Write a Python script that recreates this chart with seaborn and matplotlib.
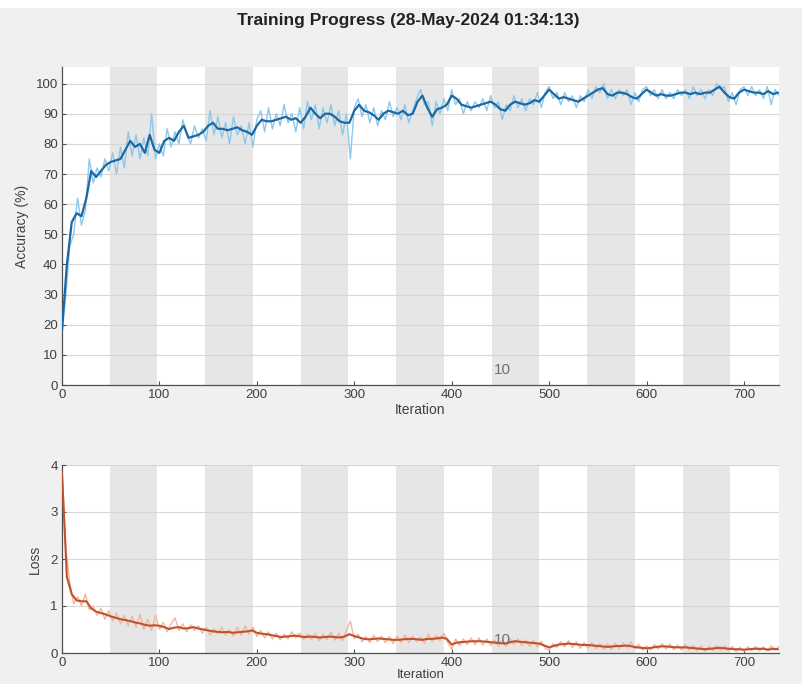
import numpy as np
import pandas as pd
import matplotlib
matplotlib.use("Agg")
import matplotlib.pyplot as plt
from matplotlib.patches import Rectangle
import seaborn as sns

# ---------------- data ----------------
title_text = "Training Progress (28-May-2024 01:34:13)"
x_ticks = [0, 100, 200, 300, 400, 500, 600, 700]
acc_ticks = [0, 10, 20, 30, 40, 50, 60, 70, 80, 90, 100]
loss_ticks = [0, 1, 2, 3, 4]
iters_per_epoch = 49
n_epochs = 15
epoch_label = "10"

# smoothed accuracy, one value every 5 iterations (0..735)
acc_smooth = [
    18, 40, 54, 57, 56, 62, 71, 69, 71, 73,
    74, 74.5, 75, 78, 81, 79, 80, 77, 83, 78,
    77, 81, 82, 81, 84, 86, 82, 82.5, 83, 84,
    86, 87, 85, 85, 84.5, 85, 85.5, 84.5, 84, 83,
    86, 88, 87.5, 87.5, 88, 88.5, 89, 88, 88.5, 87,
    89, 92, 90, 88.5, 90, 90, 89, 87.5, 87, 87,
    91, 93, 91, 90.5, 89.5, 88, 90, 91, 90.5, 90,
    91, 89.5, 90, 94, 96, 92, 89, 91.5, 92, 93,
    96, 95, 93, 92.5, 92, 92.5, 93, 93.5, 94, 93,
    91.5, 91, 93, 94, 93.5, 93, 93.5, 94.5, 94, 96,
    98, 96.5, 95, 95.5, 95, 94.5, 94, 95, 96, 97,
    98, 98.5, 96.5, 96, 97, 97, 96.5, 95.5, 95, 96.5,
    98, 97, 96, 96.5, 96, 96, 96.5, 97, 97, 96.5,
    97, 96.5, 97, 97, 98, 99, 97, 95.5, 95, 97,
    98, 97.5, 97, 97, 96.5, 97.5, 96.5, 97,
]

# raw accuracy, one value every 4 iterations (0..736)
acc_raw = [
    18, 30, 46, 50, 62, 53, 58, 75, 67, 72,
    69, 75, 71, 77, 70, 79, 72, 84, 76, 83,
    75, 82, 76, 90, 75, 80, 76, 85, 79, 84,
    80, 88, 83, 80, 86, 82, 85, 81, 91, 83,
    89, 82, 87, 80, 89, 83, 86, 80, 87, 79,
    88, 91, 84, 92, 85, 90, 86, 93, 87, 90,
    84, 92, 85, 94, 88, 93, 85, 92, 87, 93,
    86, 91, 83, 90, 75, 92, 95, 89, 93, 87,
    92, 86, 91, 88, 94, 89, 92, 88, 93, 87,
    91, 95, 98, 93, 94, 86, 94, 90, 95, 91,
    98, 93, 95, 90, 94, 91, 94, 92, 95, 91,
    96, 92, 94, 88, 93, 91, 96, 92, 95, 91,
    95, 93, 97, 92, 97, 99, 95, 97, 93, 97,
    94, 96, 92, 96, 94, 98, 95, 99, 97, 100,
    95, 98, 95, 98, 96, 98, 93, 97, 94, 98,
    99, 96, 98, 95, 98, 95, 97, 95, 98, 96,
    98, 95, 99, 96, 98, 95, 98, 96, 100, 98,
    99, 94, 97, 93, 98, 99, 96, 99, 96, 98,
    95, 99, 93, 98, 96,
]

# smoothed loss, one value every 5 iterations (0..735)
loss_smooth = [
    3.83, 1.62, 1.25, 1.12, 1.10, 1.10, 0.95, 0.88, 0.85, 0.82,
    0.78, 0.75, 0.72, 0.70, 0.68, 0.65, 0.63, 0.60, 0.58, 0.59,
    0.58, 0.55, 0.51, 0.54, 0.55, 0.52, 0.53, 0.55, 0.52, 0.50,
    0.48, 0.46, 0.45, 0.44, 0.45, 0.43, 0.44, 0.45, 0.46, 0.48,
    0.43, 0.41, 0.40, 0.38, 0.36, 0.34, 0.35, 0.36, 0.37, 0.35,
    0.34, 0.35, 0.34, 0.33, 0.34, 0.35, 0.34, 0.33, 0.35, 0.40,
    0.36, 0.33, 0.30, 0.29, 0.30, 0.31, 0.30, 0.29, 0.28, 0.28,
    0.29, 0.30, 0.30, 0.29, 0.28, 0.30, 0.30, 0.31, 0.33, 0.30,
    0.18, 0.22, 0.23, 0.24, 0.25, 0.25, 0.25, 0.24, 0.23, 0.22,
    0.21, 0.20, 0.23, 0.25, 0.24, 0.23, 0.22, 0.21, 0.20, 0.16,
    0.12, 0.15, 0.18, 0.19, 0.20, 0.19, 0.18, 0.17, 0.17, 0.16,
    0.15, 0.14, 0.13, 0.14, 0.15, 0.15, 0.16, 0.14, 0.12, 0.11,
    0.10, 0.11, 0.13, 0.14, 0.14, 0.13, 0.12, 0.12, 0.12, 0.11,
    0.10, 0.09, 0.08, 0.09, 0.10, 0.11, 0.10, 0.09, 0.08, 0.08,
    0.07, 0.08, 0.09, 0.09, 0.09, 0.07, 0.09, 0.08,
]

# raw loss, one value every 4 iterations (0..736)
loss_raw = [
    3.90, 2.20, 1.50, 1.05, 1.20, 1.00, 1.25, 0.92, 1.00, 0.80,
    0.95, 0.72, 0.90, 0.68, 0.85, 0.62, 0.80, 0.58, 0.78, 0.55,
    0.82, 0.50, 0.72, 0.48, 0.80, 0.50, 0.65, 0.45, 0.62, 0.75,
    0.48, 0.62, 0.45, 0.60, 0.48, 0.58, 0.42, 0.55, 0.38, 0.52,
    0.40, 0.55, 0.38, 0.50, 0.36, 0.55, 0.38, 0.58, 0.40, 0.55,
    0.35, 0.48, 0.32, 0.45, 0.30, 0.42, 0.28, 0.40, 0.30, 0.45,
    0.32, 0.42, 0.28, 0.40, 0.28, 0.42, 0.26, 0.40, 0.28, 0.45,
    0.27, 0.42, 0.26, 0.48, 0.68, 0.30, 0.40, 0.24, 0.35, 0.22,
    0.38, 0.24, 0.36, 0.22, 0.35, 0.20, 0.36, 0.22, 0.38, 0.22,
    0.36, 0.24, 0.34, 0.20, 0.40, 0.24, 0.38, 0.26, 0.42, 0.22,
    0.08, 0.30, 0.16, 0.30, 0.18, 0.32, 0.18, 0.32, 0.17, 0.30,
    0.16, 0.28, 0.15, 0.27, 0.14, 0.30, 0.18, 0.30, 0.16, 0.28,
    0.14, 0.27, 0.13, 0.25, 0.10, 0.06, 0.20, 0.12, 0.24, 0.13,
    0.26, 0.12, 0.24, 0.10, 0.22, 0.10, 0.22, 0.09, 0.20, 0.08,
    0.20, 0.08, 0.21, 0.09, 0.22, 0.10, 0.24, 0.08, 0.18, 0.06,
    0.15, 0.06, 0.18, 0.08, 0.20, 0.08, 0.19, 0.07, 0.17, 0.06,
    0.18, 0.06, 0.16, 0.05, 0.15, 0.04, 0.14, 0.05, 0.16, 0.06,
    0.15, 0.04, 0.14, 0.03, 0.12, 0.04, 0.13, 0.05, 0.14, 0.04,
    0.13, 0.05, 0.15, 0.06, 0.14,
]

# ---------------- styling ----------------
sns.set_theme(style="white")
plt.rcParams["font.family"] = ["Liberation Sans", "DejaVu Sans"]

BG = "#f0f0f0"
BAND = "#e6e6e6"
GRID = "#d6d6d6"
TXT = "#404040"

acc_raw_df = pd.DataFrame({"Iteration": np.arange(len(acc_raw)) * 4, "value": acc_raw})
acc_sm_df = pd.DataFrame({"Iteration": np.arange(len(acc_smooth)) * 5, "value": acc_smooth})
loss_raw_df = pd.DataFrame({"Iteration": np.arange(len(loss_raw)) * 4, "value": loss_raw})
loss_sm_df = pd.DataFrame({"Iteration": np.arange(len(loss_smooth)) * 5, "value": loss_smooth})

x_max = iters_per_epoch * n_epochs + 1

fig = plt.figure(figsize=(8.03, 6.84), dpi=100, facecolor=BG)
fig.patches.append(Rectangle((0, 1 - 8 / 684), 1, 8 / 684, transform=fig.transFigure,
                             facecolor="white", edgecolor="none", zorder=0))

ax1 = fig.add_axes([62 / 803, 1 - 385 / 684, 717 / 803, 318 / 684])
ax2 = fig.add_axes([62 / 803, 1 - 653 / 684, 717 / 803, 188 / 684])


def style_axes(ax, ylim, yticks):
    ax.set_facecolor("white")
    ax.set_xlim(0, x_max)
    ax.set_ylim(*ylim)
    for e in range(1, n_epochs, 2):
        ax.axvspan(e * iters_per_epoch, (e + 1) * iters_per_epoch,
                   color=BAND, lw=0, zorder=0)
    ax.set_xticks(x_ticks)
    ax.set_yticks(yticks)
    ax.yaxis.grid(True, color=GRID, lw=0.8, zorder=0.5)
    ax.xaxis.grid(False)
    ax.set_axisbelow(True)
    for s in ["top", "right"]:
        ax.spines[s].set_visible(False)
    for s in ["left", "bottom"]:
        ax.spines[s].set_color("#505050")
        ax.spines[s].set_linewidth(0.9)
    ax.tick_params(axis="both", direction="in", length=3, width=0.8,
                   colors="#505050", labelcolor=TXT, labelsize=9.5, pad=3)
    ax.tick_params(left=True, bottom=True)


style_axes(ax1, (0, 105.5), acc_ticks)
style_axes(ax2, (0, 4.0), loss_ticks)

sns.lineplot(data=acc_raw_df, x="Iteration", y="value", ax=ax1, color="#8cc8ec",
             lw=1.0, estimator=None, zorder=2)
sns.lineplot(data=acc_sm_df, x="Iteration", y="value", ax=ax1, color="#1c68a3",
             lw=1.6, estimator=None, zorder=3)
sns.lineplot(data=loss_raw_df, x="Iteration", y="value", ax=ax2, color="#f5b597",
             lw=1.0, estimator=None, zorder=2)
sns.lineplot(data=loss_sm_df, x="Iteration", y="value", ax=ax2, color="#bd5230",
             lw=1.5, estimator=None, zorder=3)

ax1.set_xlabel("Iteration", fontsize=10, color=TXT, labelpad=1)
ax1.set_ylabel("Accuracy (%)", fontsize=10, color=TXT, labelpad=5)
ax2.set_xlabel("Iteration", fontsize=9.5, color=TXT, labelpad=0)
ax2.set_ylabel("Loss", fontsize=10, color=TXT, labelpad=6)

ax1.text(452, 5, epoch_label, ha="center", va="center", fontsize=11, color="#707070", zorder=4)
ax2.text(452, 0.28, epoch_label, ha="center", va="center", fontsize=11, color="#707070", zorder=4)

fig.text(408 / 803, 1 - 21 / 684, title_text, ha="center", va="center",
         fontsize=12.5, fontweight="bold", color="#222222")

fig.savefig("out.png", dpi=100, facecolor=BG)
